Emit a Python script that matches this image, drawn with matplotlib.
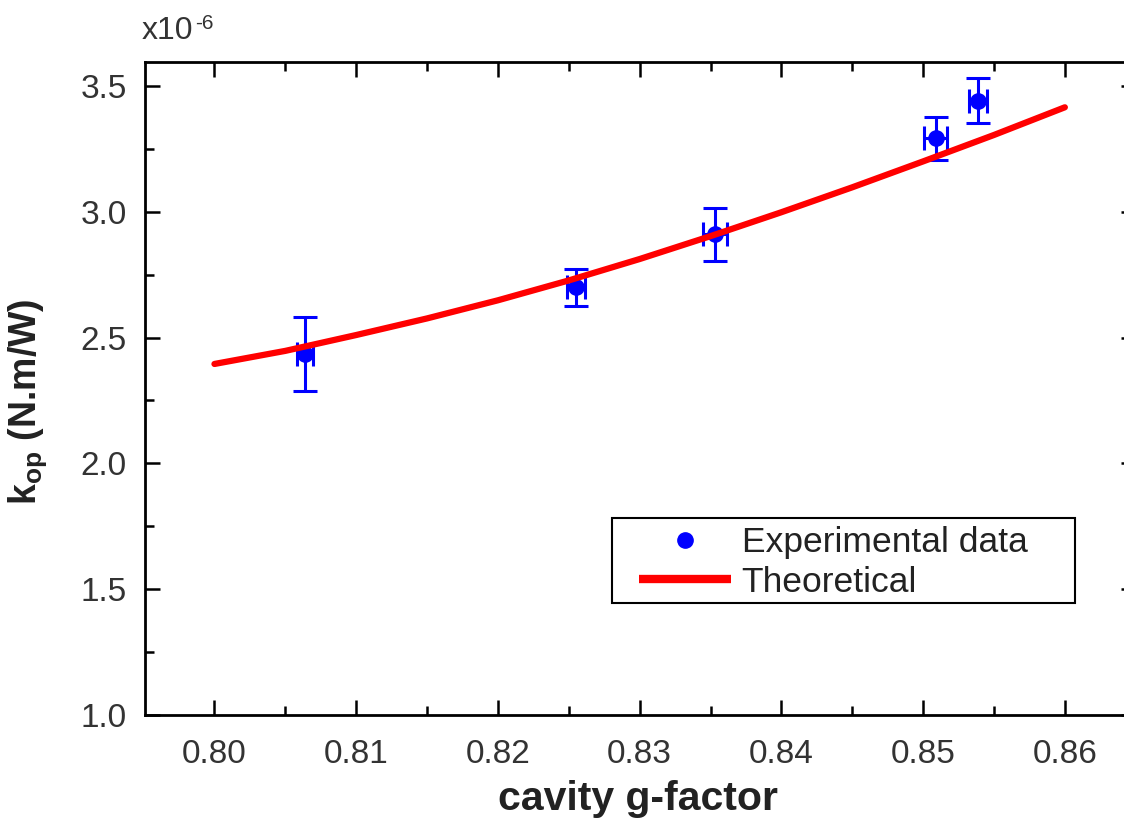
import matplotlib
matplotlib.use("Agg")
import matplotlib.pyplot as plt
from matplotlib.patches import Rectangle
from matplotlib.ticker import MultipleLocator, FormatStrFormatter

plt.rcParams['font.family'] = ['Liberation Sans', 'DejaVu Sans']
plt.rcParams['mathtext.fontset'] = 'custom'
plt.rcParams['mathtext.rm'] = 'Liberation Sans'
plt.rcParams['mathtext.bf'] = 'Liberation Sans:bold'
plt.rcParams['mathtext.default'] = 'regular'

# Experimental data (y in units of 1e-6 N.m/W)
g_exp = [0.8064, 0.8255, 0.8353, 0.8509, 0.8539]
k_exp = [2.436, 2.699, 2.910, 3.291, 3.442]
k_err = [0.147, 0.074, 0.104, 0.085, 0.091]
g_err = [0.00056, 0.00063, 0.00085, 0.00081, 0.00063]

# Theoretical curve
g_theo = [0.800, 0.805, 0.810, 0.815, 0.820, 0.825, 0.830, 0.835,
          0.840, 0.845, 0.850, 0.855, 0.860]
k_theo = [2.395, 2.447, 2.510, 2.576, 2.648, 2.727, 2.812, 2.903,
          2.998, 3.097, 3.200, 3.305, 3.415]

W, H = 1124, 818
fig = plt.figure(figsize=(W/100, H/100), dpi=100)
ax = fig.add_axes([145/W, 1 - 715/H, (1136-145)/W, (715-62)/H])

ax.errorbar(g_exp, k_exp, yerr=k_err, xerr=g_err, fmt='none', ecolor='#0000ff',
            elinewidth=2.2, capsize=8.5, capthick=2.2, zorder=3)
ax.plot(g_exp, k_exp, 'o', color='#0000ff', markersize=11, zorder=3,
        label='Experimental data')
ax.plot(g_theo, k_theo, '-', color='#ff0000', linewidth=4.5, zorder=4,
        solid_capstyle='round', label='Theoretical')

ax.set_xlim(0.7951, 0.86502)
ax.set_ylim(1.0, 3.595)
ax.xaxis.set_major_locator(MultipleLocator(0.01))
ax.xaxis.set_minor_locator(MultipleLocator(0.005))
ax.yaxis.set_major_locator(MultipleLocator(0.5))
ax.yaxis.set_minor_locator(MultipleLocator(0.25))
ax.xaxis.set_major_formatter(FormatStrFormatter('%.2f'))
ax.yaxis.set_major_formatter(FormatStrFormatter('%.1f'))

ax.tick_params(which='both', direction='in', top=True, right=True,
               width=1.8, colors='black', labelcolor='#333333')
ax.tick_params(which='major', length=11, labelsize=24)
ax.tick_params(which='minor', length=6.5)
ax.tick_params(axis='x', which='major', pad=17)
ax.tick_params(axis='y', which='major', pad=13)
for s in ax.spines.values():
    s.set_linewidth(2.0)

ax.set_xlabel('cavity g-factor', fontsize=29.5, fontweight='bold', color='#222222')
ax.xaxis.label.set_va('top')
ax.xaxis.set_label_coords((638 - 145) / (1136 - 145), -0.100)
ax.set_ylabel(r'$\mathbf{k_{op}}$ (N.m/W)', fontsize=27, fontweight='bold', color='#222222')
ax.yaxis.set_label_coords(-0.097, 0.48)

fig.text(142/W, 1 - 39/H, 'x10', fontsize=23, color='#333333',
         ha='left', va='baseline')
fig.text(195/W, 1 - 29/H, '-6', fontsize=15, color='#333333',
         ha='left', va='baseline')

# legend contents (frame drawn separately)
leg = ax.legend(loc='upper left', bbox_to_anchor=(639/W, 1 - 526/H),
                bbox_transform=fig.transFigure,
                fontsize=25.5, frameon=False,
                handlelength=2.6, handletextpad=0.3, labelspacing=0.19,
                borderpad=0.0, borderaxespad=0.0, markerscale=1.0)
for t in leg.get_texts():
    t.set_color('#222222')
leg.legend_handles[1].set_linewidth(6)
leg.legend_handles[1].set_solid_capstyle('butt')

frame = Rectangle((612/W, 1 - 603/H), (1075-612)/W, (603-518)/H,
                  transform=fig.transFigure, facecolor='none',
                  edgecolor='black', linewidth=1.5, zorder=10)
fig.add_artist(frame)

fig.savefig('out.png', dpi=100)
